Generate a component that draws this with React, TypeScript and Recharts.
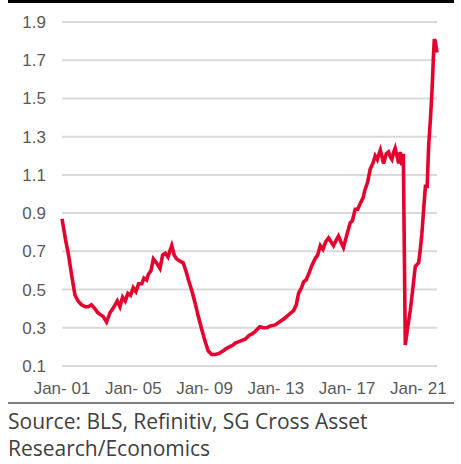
import React from "react";
import { LineChart, Line, XAxis, YAxis, CartesianGrid } from "recharts";

// decimal year -> ratio
const years = [
  2001.0, 2001.2, 2001.37, 2001.55, 2001.73, 2001.9, 2002.1, 2002.3, 2002.48, 2002.65,
  2002.85, 2003.0, 2003.13, 2003.3, 2003.5, 2003.7, 2003.85, 2003.98, 2004.1, 2004.25,
  2004.4, 2004.55, 2004.7, 2004.85, 2005.0, 2005.15, 2005.3, 2005.48, 2005.6, 2005.75,
  2005.85, 2006.0, 2006.13, 2006.3, 2006.5, 2006.65, 2006.8, 2006.95, 2007.05, 2007.16,
  2007.3, 2007.44, 2007.6, 2007.8, 2007.95, 2008.1, 2008.3, 2008.47, 2008.65, 2008.85,
  2009.0, 2009.2, 2009.4, 2009.6, 2009.8, 2010.06, 2010.2, 2010.4, 2010.6, 2010.72,
  2011.0, 2011.28, 2011.5, 2011.7, 2011.84, 2012.1, 2012.3, 2012.5, 2012.7, 2012.97,
  2013.2, 2013.5, 2013.75, 2014.0, 2014.15, 2014.28, 2014.45, 2014.56, 2014.7, 2014.84,
  2015.0, 2015.2, 2015.35, 2015.5, 2015.65, 2015.8, 2015.96, 2016.1, 2016.24, 2016.4,
  2016.52, 2016.65, 2016.8, 2017.0, 2017.18, 2017.3, 2017.46, 2017.6, 2017.74, 2017.9,
  2018.0, 2018.15, 2018.3, 2018.45, 2018.58, 2018.7, 2018.87, 2018.95, 2019.05, 2019.2,
  2019.33, 2019.45, 2019.52, 2019.62, 2019.7, 2019.8, 2019.9, 2019.99, 2020.08, 2020.16,
  2020.27, 2020.4, 2020.55, 2020.7, 2020.83, 2021.02, 2021.1, 2021.2, 2021.3, 2021.4,
  2021.5, 2021.58, 2021.7, 2021.78, 2021.85, 2021.9, 2021.95, 2022.05,
];

const ratio = [
  0.87, 0.76, 0.68, 0.57, 0.47, 0.44, 0.42, 0.41, 0.41, 0.42,
  0.4, 0.38, 0.37, 0.36, 0.33, 0.38, 0.4, 0.42, 0.44, 0.41,
  0.46, 0.44, 0.48, 0.47, 0.51, 0.49, 0.53, 0.53, 0.56, 0.55,
  0.58, 0.6, 0.66, 0.64, 0.61, 0.68, 0.69, 0.67, 0.7, 0.73,
  0.68, 0.66, 0.65, 0.64, 0.6, 0.55, 0.49, 0.43, 0.36, 0.29,
  0.24, 0.18, 0.16, 0.16, 0.165, 0.18, 0.19, 0.2, 0.21, 0.22,
  0.23, 0.24, 0.26, 0.27, 0.28, 0.305, 0.3, 0.3, 0.31, 0.315,
  0.33, 0.35, 0.37, 0.39, 0.42, 0.48, 0.51, 0.54, 0.55, 0.58,
  0.62, 0.66, 0.68, 0.73, 0.71, 0.75, 0.77, 0.75, 0.73, 0.76,
  0.78, 0.75, 0.72, 0.79, 0.85, 0.86, 0.92, 0.92, 0.95, 0.98,
  1.02, 1.06, 1.13, 1.16, 1.2, 1.18, 1.23, 1.2, 1.16, 1.21,
  1.22, 1.19, 1.18, 1.22, 1.24, 1.2, 1.16, 1.22, 1.15, 1.21,
  0.21, 0.3, 0.39, 0.51, 0.62, 0.64, 0.7, 0.79, 0.92, 1.04,
  1.04, 1.25, 1.42, 1.56, 1.72, 1.81, 1.8, 1.74,
];

const tickYears = [2001, 2005, 2009, 2013, 2017, 2021];
const tickLabels = ["Jan- 01", "Jan- 05", "Jan- 09", "Jan- 13", "Jan- 17", "Jan- 21"];
const yTicks = [0.1, 0.3, 0.5, 0.7, 0.9, 1.1, 1.3, 1.5, 1.7, 1.9];

const data = years.map((t, i) => ({ t, v: ratio[i] }));

const tickStyle = { fontFamily: "Liberation Sans, Arial, sans-serif", fontSize: 17, fill: "#595959" };

export default function App() {
  return (
    <div style={{ position: "absolute", left: 0, top: 0, width: 461, height: 464, background: "#fff" }}>
      <div style={{ position: "absolute", left: 8, top: 0, width: 446, height: 3, background: "#000" }} />
      <div style={{ position: "absolute", left: 0, top: 0 }}>
        <LineChart width={461} height={400} data={data} margin={{ top: 22, right: 24, left: 0, bottom: 0 }}>
          <CartesianGrid vertical={false} stroke="#d9d9d9" strokeWidth={2} />
          <XAxis
            dataKey="t"
            type="number"
            domain={[2001, 2022.05]}
            ticks={tickYears}
            tickFormatter={(y) => tickLabels[tickYears.indexOf(y)]}
            axisLine={false}
            tickLine={false}
            tickSize={0}
            tickMargin={16}
            height={34}
            tick={tickStyle}
            interval={0}
          />
          <YAxis
            type="number"
            domain={[0.1, 1.9]}
            ticks={yTicks}
            tickFormatter={(v) => v.toFixed(1)}
            axisLine={false}
            tickLine={false}
            tickSize={0}
            tickMargin={16}
            width={62}
            tick={tickStyle}
            interval={0}
          />
          <Line type="linear" dataKey="v" stroke="#e4032e" strokeWidth={3.6} dot={false} isAnimationActive={false} />
        </LineChart>
      </div>
      <div style={{ position: "absolute", left: 8, top: 402, width: 446, height: 2, background: "#7f7f7f" }} />
      <div
        style={{
          position: "absolute",
          left: 8,
          top: 408,
          fontFamily: "'Open Sans', sans-serif",
          fontSize: 21,
          lineHeight: "27px",
          color: "#404040",
          whiteSpace: "nowrap",
        }}
      >
        Source: BLS, Refinitiv, SG Cross Asset
        <br />
        Research/Economics
      </div>
    </div>
  );
}
